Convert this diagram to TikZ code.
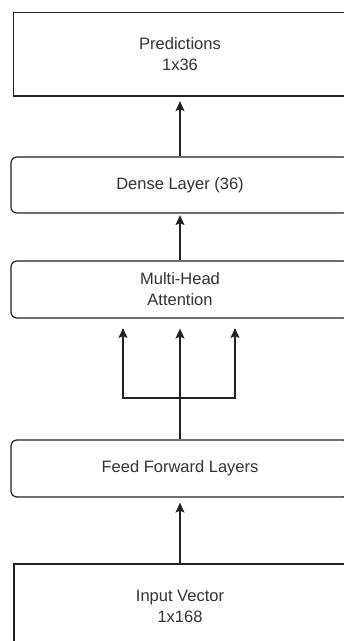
\documentclass[tikz,border=0pt]{standalone}
\usepackage{fontspec}
\setmainfont{Liberation Sans}
\usetikzlibrary{arrows.meta}
\definecolor{txt}{HTML}{333333}
\definecolor{ln}{HTML}{222222}
\begin{document}
\begin{tikzpicture}[x=1pt,y=-1pt,
  box/.style={draw=ln, line width=1.2pt, fill=white, text=txt,
    font=\fontsize{16.5}{21}\selectfont, align=center, inner sep=0pt},
  sqbox/.style={box},
  rndbox/.style={box, rounded corners=6pt},
  arr/.style={draw=ln, line width=1.2pt, -{Stealth[length=10pt,width=9pt,inset=2pt]}},
  ln/.style={draw=ln, line width=1.2pt}]
\useasboundingbox (0,0) rectangle (344,641);
\clip (0,0) rectangle (344,641);
\node[sqbox, minimum width=333pt, minimum height=83.5pt] (pred) at (180,54.25) {Predictions\\1x36};
\node[rndbox, minimum width=338pt, minimum height=56pt] (dense) at (180,185) {Dense Layer (36)};
\node[rndbox, minimum width=338pt, minimum height=57pt] (mha) at (180,289.5) {Multi-Head\\Attention};
\node[rndbox, minimum width=338pt, minimum height=57pt] (ff) at (180,468.5) {Feed Forward Layers};
\node[sqbox, minimum width=332pt, minimum height=84pt] (inp) at (180,606) {Input Vector\\1x168};
% arrows
\draw[arr, shorten >=4.5pt] (dense.north) -- (pred.south);
\draw[arr, shorten >=1.5pt] (mha.north) -- (dense.south);
\draw[arr, shorten >=5pt] (inp.north) -- (ff.south);
\coordinate (jc) at (180,398);
\coordinate (tl) at (123,328);
\coordinate (tr) at (235,328);
\draw[arr, shorten >=10pt] (ff.north) -- (mha.south);
\draw[arr] (jc) -| (tl);
\draw[arr] (jc) -| (tr);
\end{tikzpicture}
\end{document}
